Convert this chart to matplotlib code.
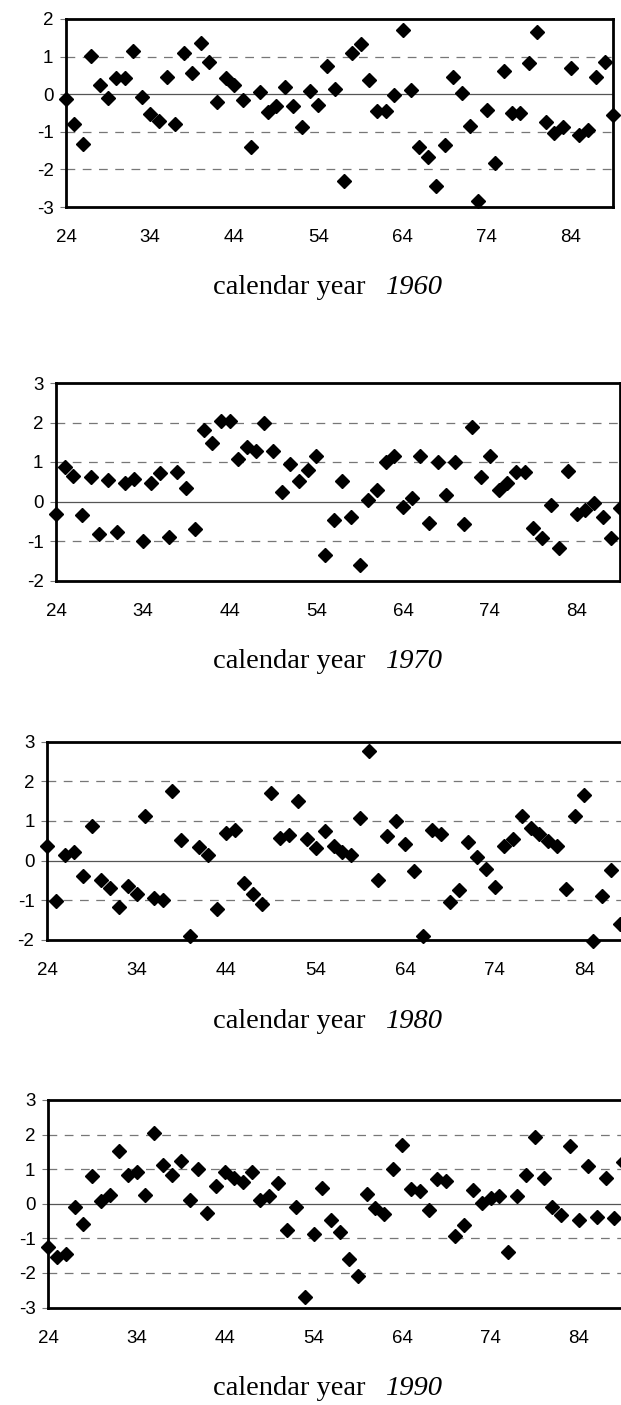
import numpy as np
import matplotlib.pyplot as plt

plt.rcParams['axes.unicode_minus'] = False

# age axis (one point per year of age)
ages = list(range(24, 90))

dev_1960 = [-0.13, -0.8, -1.33, 1.02, 0.25, -0.1, 0.42, 0.42, 1.14, -0.07,
            -0.52, -0.7, 0.46, -0.8, 1.1, 0.57, 1.37, 0.86, -0.2, 0.42,
            0.24, -0.16, -1.4, 0.06, -0.47, -0.32, 0.18, -0.32, -0.87, 0.08,
            -0.29, 0.75, 0.15, -2.31, 1.1, 1.34, 0.39, -0.45, -0.45, -0.01,
            1.72, 0.11, -1.4, -1.66, -2.44, -1.34, 0.46, 0.02, -0.84, -2.83,
            -0.41, -1.82, 0.61, -0.49, -0.49, 0.84, 1.65, -0.73, -1.02, -0.87,
            0.7, -1.09, -0.94, 0.46, 0.86, -0.56]

dev_1970 = [-0.32, 0.87, 0.65, -0.35, 0.62, -0.82, 0.54, -0.78, 0.47, 0.57,
            -1.01, 0.48, 0.71, -0.91, 0.74, 0.34, -0.69, 1.82, 1.48, 2.05,
            2.05, 1.07, 1.39, 1.27, 1.98, 1.27, 0.25, 0.95, 0.51, 0.8,
            1.14, -1.35, -0.48, 0.53, -0.39, -1.6, 0.04, 0.3, 1.01, 1.14,
            -0.14, 0.09, 1.14, -0.55, 1.0, 0.17, 1.0, -0.57, 1.88, 0.63,
            1.16, 0.3, 0.47, 0.74, 0.74, -0.66, -0.93, -0.1, -1.18, 0.76,
            -0.32, -0.21, -0.04, -0.38, -0.93, -0.17]

dev_1980 = [0.36, -1.02, 0.13, 0.21, -0.38, 0.86, -0.5, -0.68, -1.17, -0.63,
            -0.84, 1.13, -0.94, -0.98, 1.75, 0.52, -1.91, 0.35, 0.13, -1.23,
            0.69, 0.76, -0.57, -0.84, -1.09, 1.7, 0.56, 0.65, 1.49, 0.55,
            0.32, 0.74, 0.38, 0.21, 0.13, 1.07, 2.75, -0.49, 0.62, 0.99,
            0.42, -0.27, -1.91, 0.76, 0.67, -1.05, -0.74, 0.46, 0.1, -0.21,
            -0.66, 0.38, 0.55, 1.12, 0.81, 0.67, 0.5, 0.36, -0.72, 1.12,
            1.66, -2.03, -0.88, -0.23, -1.59, np.nan]

dev_1990 = [-1.26, -1.55, -1.45, -0.08, -0.58, 0.81, 0.08, 0.25, 1.53, 0.84,
            0.91, 0.26, 2.04, 1.13, 0.82, 1.25, 0.12, 1.01, -0.27, 0.5,
            0.93, 0.74, 0.62, 0.92, 0.12, 0.23, 0.6, -0.75, -0.08, -2.71,
            -0.87, 0.45, -0.48, -0.82, -1.59, -2.08, 0.28, -0.13, -0.29, 1.0,
            1.71, 0.42, 0.36, -0.19, 0.71, 0.66, -0.92, -0.61, 0.39, 0.02,
            0.16, 0.21, -1.4, 0.21, 0.84, 1.92, 0.74, -0.08, -0.32, 1.68,
            -0.48, 1.1, -0.37, 0.74, -0.41, 1.22]

panel_years = ['1960', '1970', '1980', '1990']
panel_data = [dev_1960, dev_1970, dev_1980, dev_1990]
panel_ylim = [(-3, 2), (-2, 3), (-2, 3), (-3, 3)]
xtick_vals = [24, 34, 44, 54, 64, 74, 84]

W, H = 621, 1405
# axes boxes in pixels: left, top, right, bottom
boxes = [(66, 19, 613, 207),
         (56, 383, 620, 580.5),
         (47, 741.5, 629, 940),
         (48, 1100, 623.3, 1307.5)]

fig = plt.figure(figsize=(W / 100, H / 100), dpi=100)
fig.patch.set_facecolor('white')

for (l, t, r, b), yr, vals, ylim in zip(boxes, panel_years, panel_data, panel_ylim):
    ax = fig.add_axes([l / W, 1 - b / H, (r - l) / W, (b - t) / H])
    ax.set_xlim(24, 89)
    ax.set_ylim(*ylim)

    for y in range(ylim[0] + 1, ylim[1]):
        if y == 0:
            ax.axhline(0, color='#555555', lw=0.9, zorder=1)
        else:
            ax.axhline(y, color='#777777', lw=0.9, ls=(0, (7, 6)), zorder=1)

    ax.plot(ages, vals, ls='none', marker='D', ms=6.9, color='black',
            clip_on=False, zorder=3)

    for s in ax.spines.values():
        s.set_linewidth(2)
        s.set_color('black')

    ax.set_yticks(range(ylim[0], ylim[1] + 1))
    ax.set_xticks(xtick_vals)
    ax.tick_params(axis='y', length=4, width=0.8, color='#777777', pad=5,
                   labelsize=13.5)
    ax.tick_params(axis='x', length=0, pad=16, labelsize=13.5)
    for lab in ax.get_xticklabels() + ax.get_yticklabels():
        lab.set_family('Liberation Sans')

    ty = 1 - (b + 81) / H
    fig.text(213 / W, ty, 'calendar year', family='Liberation Serif',
             fontsize=20.5, ha='left', va='center')
    fig.text(386 / W, ty, yr, family='Liberation Serif', style='italic',
             fontsize=20.5, ha='left', va='center')

fig.savefig('out.png', dpi=100, facecolor='white')
